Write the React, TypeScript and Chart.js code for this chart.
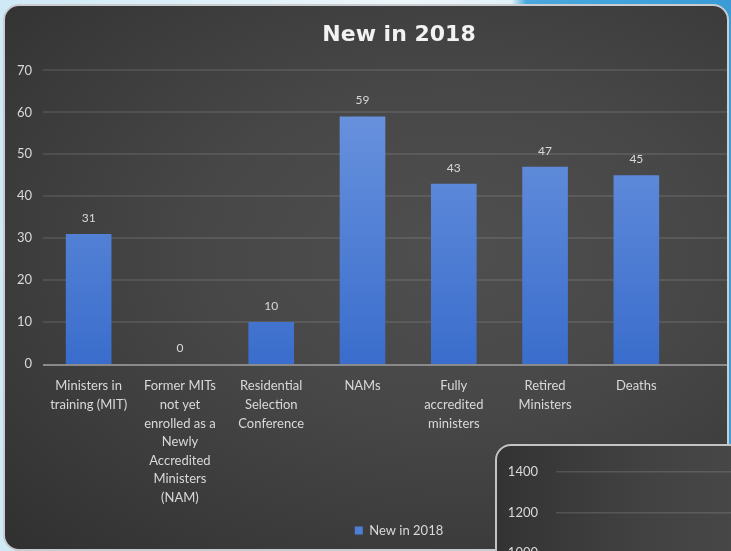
import React, { useEffect, useRef } from "react";
import { Chart, registerables } from "chart.js";

Chart.register(...registerables);

const chartTitle = "New in 2018";
const seriesName = "New in 2018";
const categories: string[][] = [
  ["Ministers in", "training (MIT)"],
  ["Former MITs", "not yet", "enrolled as a", "Newly", "Accredited", "Ministers", "(NAM)"],
  ["Residential", "Selection", "Conference"],
  ["NAMs"],
  ["Fully", "accredited", "ministers"],
  ["Retired", "Ministers"],
  ["Deaths"],
];
const values = [31, 0, 10, 59, 43, 47, 45];
const yMin = 0;
const yMax = 70;
const yStep = 10;

// second (partly hidden) chart behind, bottom right
const insetMin = 0;
const insetMax = 1400;
const insetStep = 200;

const LABEL_COLOR = "#d9d9d9";
const GRID_COLOR = "rgba(255,255,255,0.13)";
const FONT = "Lato";

const extendGrid = {
  id: "extendGrid",
  beforeDatasetsDraw(chart: any) {
    const { ctx, chartArea } = chart;
    const y = chart.scales.y;
    ctx.save();
    ctx.strokeStyle = GRID_COLOR;
    ctx.lineWidth = 1.5;
    y.ticks.forEach((t: any) => {
      if (t.value === 0) return;
      const py = Math.round(y.getPixelForValue(t.value));
      ctx.beginPath();
      ctx.moveTo(chartArea.left, py);
      ctx.lineTo(chart.width, py);
      ctx.stroke();
    });
    ctx.restore();
  },
  afterDatasetsDraw(chart: any) {
    const { ctx, chartArea } = chart;
    const y = chart.scales.y;
    const py = Math.round(y.getPixelForValue(0)) + 1;
    ctx.save();
    ctx.strokeStyle = "#8a8a8a";
    ctx.lineWidth = 2;
    ctx.beginPath();
    ctx.moveTo(chartArea.left, py);
    ctx.lineTo(chart.width, py);
    ctx.stroke();
    // data labels
    const meta = chart.getDatasetMeta(0);
    ctx.fillStyle = LABEL_COLOR;
    ctx.font = `12px ${FONT}`;
    ctx.textAlign = "center";
    ctx.textBaseline = "middle";
    meta.data.forEach((bar: any, i: number) => {
      const v = chart.data.datasets[0].data[i];
      ctx.fillText(String(v), bar.x, bar.y - 16);
    });
    ctx.restore();
  },
};

function MainChart() {
  const ref = useRef<HTMLCanvasElement | null>(null);
  useEffect(() => {
    if (!ref.current) return;
    const chart = new Chart(ref.current, {
      type: "bar",
      data: {
        labels: categories as any,
        datasets: [
          {
            label: seriesName,
            data: values,
            backgroundColor: (c: any) => {
              const { chart: ch } = c;
              const area = ch.chartArea;
              if (!area) return "#4d7fd6";
              const g = ch.ctx.createLinearGradient(0, area.top, 0, area.bottom);
              g.addColorStop(0, "#7098e0");
              g.addColorStop(1, "#3a6dcc");
              return g;
            },
            borderWidth: 0,
            categoryPercentage: 1,
            barPercentage: 0.5,
            yAxisID: "y",
          },
        ],
      },
      options: {
        animation: false,
        responsive: false,
        layout: { padding: { left: 0, right: 0, top: 0, bottom: 4 } },
        plugins: {
          title: {
            display: true,
            text: chartTitle,
            color: "#f2f2f2",
            font: { family: "DejaVu Sans", size: 22, weight: "bold" },
            padding: { top: 22, bottom: 22 },
          },
          legend: {
            display: true,
            position: "bottom",
            labels: {
              boxWidth: 8,
              boxHeight: 8,
              color: LABEL_COLOR,
              font: { family: FONT, size: 13 },
              padding: 10,
              generateLabels: () => [
                {
                  text: seriesName,
                  fillStyle: "#4d7fd6",
                  strokeStyle: "#4d7fd6",
                  lineWidth: 0,
                  hidden: false,
                  datasetIndex: 0,
                  fontColor: LABEL_COLOR,
                } as any,
              ],
            },
          },
          tooltip: { enabled: false },
        },
        scales: {
          x: {
            grid: { display: false },
            border: { display: false },
            ticks: {
              color: LABEL_COLOR,
              font: { family: FONT, size: 13, lineHeight: 1.43 },
              padding: 5,
              maxRotation: 0,
              autoSkip: false,
            },
            afterFit: (s: any) => {
              s.height = 150;
            },
          },
          y: {
            min: yMin,
            max: yMax,
            grid: { display: false, drawTicks: false },
            border: { display: false },
            ticks: {
              stepSize: yStep,
              color: LABEL_COLOR,
              font: { family: FONT, size: 13 },
              padding: 11,
            },
            afterFit: (s: any) => {
              s.width = 43;
            },
          },
          yr: {
            type: "linear",
            position: "right",
            display: true,
            grid: { display: false, drawTicks: false },
            border: { display: false },
            ticks: { display: false },
            afterFit: (s: any) => {
              s.width = 116;
            },
          },
        },
      } as any,
      plugins: [extendGrid],
    });
    return () => chart.destroy();
  }, []);
  return (
    <canvas
      ref={ref}
      width={798}
      height={551}
      style={{ position: "absolute", left: -5, top: -6, width: 798, height: 551 }}
    />
  );
}

function InsetChart() {
  const ref = useRef<HTMLCanvasElement | null>(null);
  useEffect(() => {
    if (!ref.current) return;
    const chart = new Chart(ref.current, {
      type: "bar",
      data: { labels: [], datasets: [] },
      options: {
        animation: false,
        responsive: false,
        layout: { padding: { top: 19, bottom: 29, left: 0, right: 0 } },
        plugins: { legend: { display: false }, title: { display: false }, tooltip: { enabled: false } },
        scales: {
          x: { display: false },
          y: {
            min: insetMin,
            max: insetMax,
            grid: { color: GRID_COLOR, lineWidth: 1.5, drawTicks: false },
            border: { display: false },
            ticks: {
              stepSize: insetStep,
              color: LABEL_COLOR,
              font: { family: FONT, size: 13 },
              padding: 18,
              callback: (v: any) => String(v),
            },
            afterFit: (s: any) => {
              s.width = 59;
            },
          },
        },
      } as any,
    });
    return () => chart.destroy();
  }, []);
  return (
    <canvas
      ref={ref}
      width={300}
      height={340}
      style={{ position: "absolute", left: 0, top: 0, width: 300, height: 340 }}
    />
  );
}

export default function App() {
  return (
    <div
      style={{
        position: "fixed",
        left: 0,
        top: 0,
        width: 731,
        height: 551,
        overflow: "hidden",
        background:
          "linear-gradient(90deg, #cfe9f6 0%, #dff0f8 30%, #eef6fa 55%, #e3f1f8 70%, #4aa8de 72%, #3a9bd6 100%)",
      }}
    >
      <div
        style={{
          position: "absolute",
          left: 3,
          top: 4,
          width: 726,
          height: 547,
          boxSizing: "border-box",
          border: "2px solid #c9cdd0",
          borderRadius: 16,
          overflow: "hidden",
          background:
            "radial-gradient(ellipse at 62% 45%, #4f4f4f 0%, #474747 40%, #3a3a3a 75%, #303030 100%)",
        }}
      >
        <MainChart />
      </div>
      <div
        style={{
          position: "absolute",
          left: 495,
          top: 444,
          width: 300,
          height: 200,
          boxSizing: "border-box",
          border: "2px solid #c4c4c4",
          borderRadius: 16,
          overflow: "hidden",
          background: "linear-gradient(90deg, #333333 0%, #424242 50%, #4a4a4a 100%)",
        }}
      >
        <InsetChart />
      </div>
    </div>
  );
}
